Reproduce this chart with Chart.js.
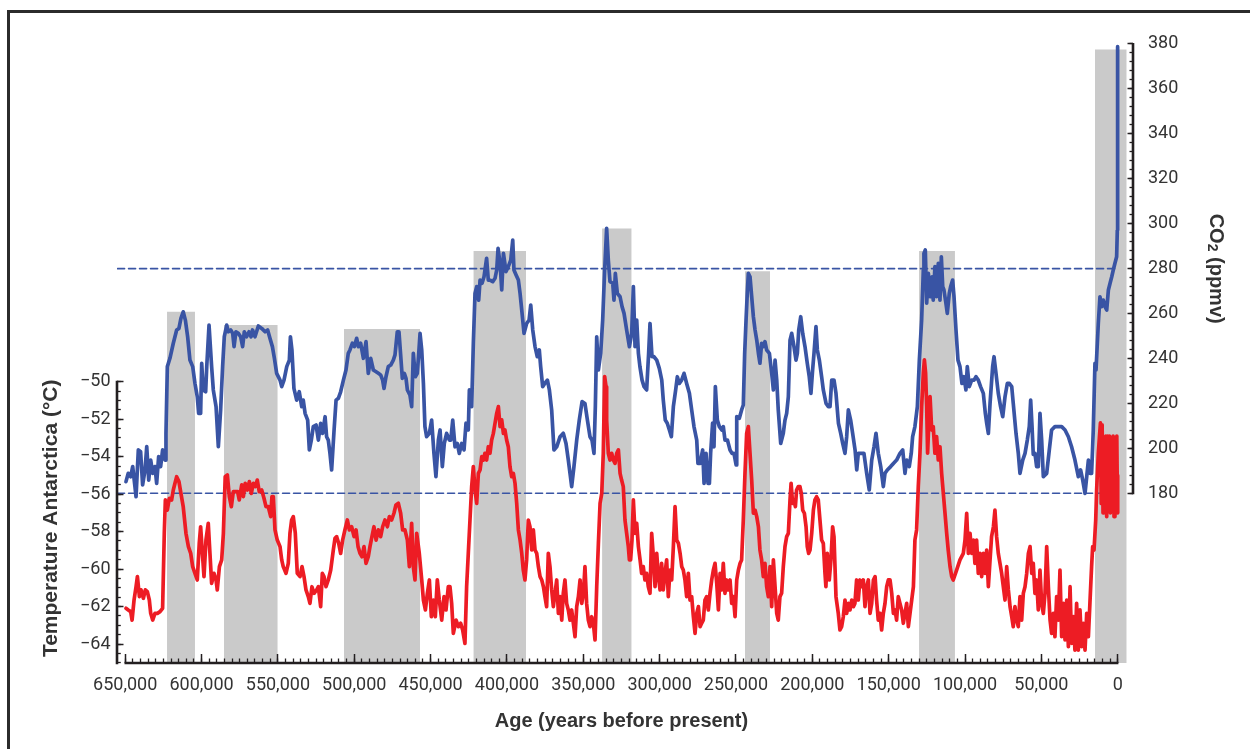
<!DOCTYPE html>
<html>
<head>
<meta charset="utf-8">
<title>Antarctic temperature and CO2 over 650,000 years</title>
<script src="https://cdn.jsdelivr.net/npm/chart.js@4.4.1/dist/chart.umd.min.js"></script>
<style>
  html, body { margin: 0; padding: 0; background: #fff; }
  canvas { display: block; }
</style>
</head>
<body>
<canvas id="chart" width="1250" height="749"></canvas>
<script>
// ages are in thousands of years before present
let co2Age = [
  649.5,648.0,646.4,645.1,643.6,642.9,641.4,639.9,638.6,637.0,635.9,634.6,633.3,632.0,630.5,629.4,628.1,626.8,625.5,623.9,
  623.3,622.4,620.7,618.5,616.3,614.8,613.5,612.0,610.6,609.1,607.6,605.8,604.3,602.8,601.9,600.6,599.9,598.9,597.3,596.6,
  595.1,593.4,592.3,590.5,589.0,587.5,586.2,585.1,583.5,582.5,580.9,579.6,578.7,577.5,575.9,574.4,573.1,572.0,570.5,568.9,
  567.6,566.6,565.0,562.8,560.6,558.4,556.7,555.2,553.6,552.3,550.8,548.6,547.5,546.0,544.2,542.5,541.8,540.8,539.5,537.7,
  536.0,534.4,533.4,532.2,530.5,529.4,528.1,526.8,525.0,523.5,522.0,520.7,519.1,518.1,517.0,515.9,514.8,513.2,511.9,510.4,
  508.9,507.1,505.4,503.9,502.8,501.2,499.9,498.4,497.3,495.8,494.0,492.3,490.8,489.2,487.5,485.7,484.2,482.7,481.4,480.5,
  479.2,477.7,476.1,474.4,473.3,471.8,470.7,470.0,468.5,467.2,466.1,465.2,463.5,462.4,461.3,460.0,458.7,457.6,456.9,455.8,
  454.7,453.7,452.6,450.8,449.3,447.8,446.5,444.9,443.8,442.3,441.0,439.5,437.7,
  436.8,435.5,434.0,432.5,431.2,429.6,428.1,426.8,425.3,424.6,423.1,422.0,420.9,419.8,418.5,417.6,416.3,415.0,413.3,412.2,
  411.1,409.3,407.8,406.7,405.8,404.5,403.4,402.3,400.6,399.1,397.5,396.2,395.4,394.0,392.5,391.4,390.3,388.8,387.1,385.5,
  384.4,383.1,381.6,380.1,378.8,377.9,376.6,375.1,373.5,372.2,370.7,369.2,367.4,365.2,363.1,361.3,359.8,358.7,357.6,356.1,
  354.3,352.6,350.8,348.9,347.3,345.6,344.3,343.0,342.1,341.2,340.1,338.6,337.3,336.0,334.7,333.6,332.5,330.7,329.9,329.0,
  327.7,325.9,324.6,323.3,321.6,319.8,318.3,317.2,316.1,315.0,313.9,312.9,311.5,310.2,308.5,307.2,306.3,305.0,303.7,301.9,
  300.2,298.6,297.6,296.3,295.0,293.6,292.3,291.0,289.5,288.4,287.1,285.6,284.0,282.3,280.5,279.0,277.5,275.7,274.9,273.5,
  271.8,270.9,269.6,268.3,267.4,266.6,265.3,264.4,263.5,262.2,260.9,259.3,258.3,257.2,255.6,253.9,252.6,251.3,249.9,249.5,
  247.8,246.3,245.2,244.3,243.4,242.6,241.9,240.8,239.7,238.6,237.5,236.4,235.3,234.3,233.2,232.1,231.0,229.9,228.1,
  226.6,225.5,224.4,223.3,222.3,220.7,219.0,217.9,216.8,215.7,214.6,213.5,212.0,210.7,209.8,208.9,207.6,206.3,204.8,203.3,
  202.0,200.9,199.8,198.9,197.6,196.7,195.4,193.9,192.8,191.0,189.5,188.4,187.3,185.8,184.5,182.9,181.4,180.1,178.6,177.5,
  176.4,174.9,173.6,172.0,170.9,169.9,167.7,166.2,164.4,162.7,161.1,159.6,158.3,156.8,155.2,153.5,152.4,150.9,148.7,146.9,
  144.8,142.6,140.8,139.3,138.2,136.5,135.2,134.3,132.8,131.2,129.9,128.4,127.3,126.9,126.0,125.1,124.0,122.9,121.6,120.8,
  119.7,118.6,117.5,116.4,115.5,114.6,113.8,112.5,111.6,110.3,109.4,108.1,107.2,105.9,104.6,103.3,102.0,100.7,99.4,98.5,
  97.2,95.6,94.1,92.8,91.3,89.8,88.0,86.7,85.8,84.7,83.6,81.9,81.0,79.7,78.2,76.7,75.3,73.8,72.3,71.0,
  69.4,68.4,66.6,65.1,64.0,62.2,60.7,59.2,57.9,57.0,56.1,55.3,54.2,53.1,52.0,50.9,49.8,48.7,46.5,44.8,
  43.3,41.1,38.9,36.7,34.5,32.3,30.2,28.0,25.8,24.3,22.9,21.4,20.3,19.2,18.1,17.1,16.4,
  16.0,14.9,14.2,12.7,11.6,10.5,9.4,8.3,7.2,6.1,5.0,3.9,2.9,1.8,0.7,0.25,0.1,0.0
];
let co2Ppmv = [
  185.2,188.9,187.4,191.9,182.9,178.5,199.3,198.5,183.7,190.4,200.8,185.9,194.8,188.9,191.9,184.4,196.3,191.9,199.3,194.8,
  206.7,236.4,240.1,246.8,252.7,253.4,257.9,260.8,257.1,249.7,239.3,236.4,228.9,223.0,215.6,215.6,237.8,226.0,225.2,236.4,
  254.9,236.4,226.0,218.6,200.8,217.1,236.4,249.7,254.9,251.9,252.7,251.2,245.3,251.9,251.2,249.7,245.3,251.9,249.7,251.9,
  249.7,252.7,249.7,254.5,253.4,251.9,252.7,249.0,245.3,240.1,233.4,230.4,227.5,230.4,236.4,239.3,249.7,243.8,226.7,221.5,
  225.2,218.6,221.5,215.6,212.6,199.3,203.7,209.7,210.4,203.7,211.1,206.7,214.1,205.2,203.7,197.8,190.4,208.2,221.5,222.3,
  225.2,230.4,234.9,242.3,243.8,246.8,245.3,249.0,245.3,246.8,240.1,247.5,233.4,240.1,234.9,234.1,233.4,232.7,230.4,226.7,
  231.9,236.4,237.1,239.3,241.6,251.9,251.9,245.3,231.2,233.4,231.2,226.0,223.7,218.6,242.3,231.9,233.4,243.8,251.2,243.8,
  228.9,209.7,205.2,206.7,212.6,197.8,187.4,203.7,208.2,191.9,202.3,206.7,203.7,
  203.7,212.6,200.7,202.2,197.8,202.2,199.3,211.2,208.2,226.0,218.6,246.8,269.0,272.0,266.0,274.9,273.5,276.4,284.6,274.9,
  274.9,274.2,275.7,279.4,289.0,282.4,270.5,286.8,278.7,280.9,283.8,292.7,279.4,277.2,274.9,269.0,261.6,251.2,255.6,257.1,
  263.8,252.7,245.3,240.8,243.8,236.4,227.5,229.0,230.4,226.0,217.1,199.3,200.7,205.2,206.7,202.2,194.8,188.9,183.0,191.9,
  203.7,212.6,220.8,220.0,212.6,205.2,203.7,197.8,218.6,249.7,234.9,242.3,257.1,279.4,297.9,283.8,274.2,273.5,266.0,277.9,
  269.0,267.5,263.1,260.1,252.7,245.3,251.2,272.0,245.3,257.1,242.3,236.4,230.4,227.5,226.0,242.3,255.6,240.8,240.8,239.3,
  235.6,230.4,221.5,212.6,211.2,208.2,205.2,218.6,226.0,231.9,228.9,230.4,233.4,228.9,224.5,217.1,209.7,203.7,193.3,193.3,
  199.3,184.4,197.8,184.4,184.4,197.8,211.2,200.7,227.5,212.6,209.7,208.2,209.7,203.7,203.7,199.3,197.8,197.8,192.6,214.1,
  213.4,217.1,219.3,242.3,257.1,269.0,277.9,276.4,267.5,258.6,252.7,248.2,242.3,237.9,246.8,245.3,247.5,243.8,242.3,
  233.4,226.0,239.3,230.4,217.1,202.2,206.7,212.6,215.6,223.0,248.2,251.2,245.3,239.3,242.3,252.7,258.6,251.2,245.3,237.9,
  231.9,224.5,234.9,242.3,254.2,243.8,239.3,231.9,226.0,220.0,218.6,218.6,230.4,230.4,224.5,211.2,206.7,202.2,197.8,205.2,
  217.1,212.6,206.7,199.3,190.4,197.8,197.8,197.8,188.9,181.5,194.8,200.7,206.7,197.8,191.9,183.0,188.9,190.4,191.9,193.3,
  194.8,197.8,199.3,188.9,194.8,191.9,197.8,205.2,209.7,218.6,239.3,257.2,279.4,286.8,288.3,264.6,277.9,267.5,276.4,266.0,
  280.9,267.5,282.4,266.0,285.3,272.0,270.5,264.6,260.1,269.0,272.0,274.9,267.5,252.7,239.3,236.4,228.9,231.9,226.0,236.4,
  227.5,230.4,230.4,231.9,230.4,227.5,224.5,215.6,211.2,206.7,220.0,236.4,240.8,233.4,224.5,218.6,214.1,223.0,228.9,228.9,
  227.5,220.0,206.7,197.8,188.9,194.8,197.8,203.7,209.7,221.5,209.7,197.3,197.8,191.9,191.9,215.6,203.7,187.4,188.9,199.3,
  208.2,209.7,209.7,209.7,208.2,205.2,200.7,194.8,187.4,190.4,185.9,180.0,187.4,194.8,188.9,188.9,200.7,
  208.2,237.8,234.9,255.6,267.5,263.1,266.0,263.1,261.6,270.5,273.5,276.4,279.4,282.4,285.3,297.2,326.9,378.8
];

let tempAge = [
  649.5,648.0,646.4,645.5,644.2,642.9,642.0,640.7,639.6,638.1,636.8,635.5,634.2,633.3,632.0,630.5,628.9,627.2,625.5,624.4,
  623.7,622.4,621.1,619.6,618.5,617.4,616.3,614.8,613.5,612.0,610.2,608.6,607.1,605.8,604.3,602.8,601.5,600.6,599.3,598.4,
  597.1,595.6,594.5,593.4,591.8,590.5,589.7,588.3,586.8,585.7,584.5,583.1,581.8,580.5,579.2,577.6,576.4,575.3,573.7,572.6,
  571.4,570.0,568.7,567.4,566.1,564.8,563.5,562.2,560.6,559.1,557.8,556.3,554.7,553.9,553.0,551.9,550.4,548.6,547.5,546.5,
  544.7,543.2,542.1,541.0,539.9,538.6,537.3,535.5,534.2,532.9,531.6,530.1,529.0,527.7,526.3,524.6,523.5,522.0,520.9,519.8,
  518.5,517.0,515.4,513.7,512.6,511.5,510.2,508.9,507.6,506.1,504.5,503.2,501.7,500.1,498.8,497.5,496.2,494.9,493.6,492.3,
  490.8,489.7,488.4,487.1,485.7,484.2,482.7,481.4,479.9,478.3,477.0,475.5,474.0,472.7,471.1,469.6,468.3,466.8,465.2,463.9,
  462.4,461.3,460.2,459.1,457.4,455.8,454.7,453.4,452.1,450.8,449.5,448.2,446.9,445.6,444.3,442.7,441.2,439.9,438.4,
  437.3,436.2,435.1,433.3,431.8,430.3,429.0,427.5,426.4,425.3,424.2,423.1,422.0,420.9,419.8,418.7,417.6,416.5,415.4,414.4,
  413.3,412.2,411.1,410.0,408.9,407.8,406.7,405.6,404.5,403.4,402.3,401.3,400.2,399.1,398.0,396.9,395.8,394.7,393.6,392.5,
  391.4,390.3,389.3,388.2,387.1,386.0,384.9,383.8,382.7,381.6,380.5,379.4,378.3,377.2,376.1,375.1,374.0,372.9,371.8,370.7,
  369.6,368.5,367.4,366.3,365.2,364.1,363.1,362.0,360.9,359.8,358.7,357.6,356.5,355.4,354.3,353.2,352.1,351.0,349.9,348.9,
  347.8,346.7,345.6,344.5,343.4,342.3,341.2,340.1,339.0,337.9,336.9,336.0,335.1,334.7,333.6,332.5,331.4,330.3,329.2,328.1,
  327.0,325.9,324.9,323.8,322.7,321.6,320.5,319.8,319.0,318.1,317.2,316.1,315.0,313.9,312.8,311.8,310.7,309.6,308.5,307.4,
  306.3,305.2,304.1,303.0,301.9,300.8,299.7,298.7,297.6,296.5,295.4,294.3,293.2,292.1,291.0,289.9,288.8,287.7,286.6,285.5,
  284.5,283.4,282.3,281.2,280.1,279.0,277.9,276.8,275.7,274.6,273.5,272.5,271.4,270.3,269.2,268.1,267.0,265.9,264.8,263.7,
  262.6,261.5,260.4,259.3,258.3,257.2,256.1,255.0,253.9,252.8,251.7,250.6,249.5,248.4,247.3,246.3,245.2,244.1,243.0,241.9,
  240.8,239.7,238.6,237.5,236.4,235.3,234.3,233.2,232.1,231.0,229.9,228.8,
  227.7,226.6,225.5,224.4,223.3,222.3,221.2,220.1,219.0,217.9,216.8,215.7,214.6,213.9,212.9,212.0,211.1,210.3,209.2,208.1,
  207.2,206.3,205.2,204.1,203.3,202.4,201.5,200.4,199.3,198.3,197.2,196.1,195.0,193.9,192.8,191.7,191.1,190.2,188.9,187.8,
  186.7,185.8,184.5,183.0,181.9,180.8,179.7,178.6,177.5,176.4,175.3,174.2,173.1,172.1,171.0,169.9,168.8,167.7,166.6,165.5,
  164.4,163.3,162.2,161.1,160.0,158.9,157.9,156.8,155.7,154.6,153.5,152.4,151.3,150.2,149.1,148.0,146.9,145.8,144.8,143.7,
  142.6,141.5,140.4,139.3,138.2,137.1,136.0,134.9,133.8,132.8,131.7,130.6,129.5,128.4,127.3,126.6,125.8,125.1,124.5,123.8,
  122.9,121.8,120.8,119.7,118.6,117.5,116.4,115.3,114.2,113.1,112.0,111.0,109.8,108.7,107.7,105.5,103.3,101.1,100.0,98.9,
  97.8,96.7,95.6,94.5,93.5,92.4,91.3,90.2,89.1,88.0,86.9,85.8,84.7,83.6,82.6,81.4,80.4,79.3,78.2,77.1,
  76.0,74.9,73.8,72.7,71.6,70.5,69.4,68.4,67.3,66.2,65.1,64.0,62.9,61.8,60.7,59.6,58.5,57.4,56.3,55.3,
  54.2,53.1,52.0,50.9,49.8,48.7,47.6,46.5,45.4,44.3,43.3,42.2,41.1,40.0,38.9,37.8,36.7,35.6,34.5,33.4,
  32.3,31.2,30.2,29.1,28.0,26.9,25.8,24.7,23.6,22.5,21.4,20.3,19.2,18.2,17.1,16.4,15.5,14.4,13.8,12.7,
  12.0,11.3,10.8,10.2,9.6,9.0,8.4,7.8,7.2,6.6,6.0,5.4,4.8,4.2,3.6,3.0,2.4,1.8,1.2,0.6,0.1,0.0
];
let tempC = [
  -62.09,-62.18,-62.27,-62.72,-61.65,-60.94,-60.40,-61.47,-61.11,-61.56,-61.11,-61.20,-61.65,-62.36,-62.72,-62.36,-62.36,-62.27,-62.09,-58.09,
  -56.31,-56.85,-56.22,-56.31,-55.78,-55.42,-55.07,-55.33,-55.96,-56.67,-58.09,-58.80,-59.16,-59.87,-60.23,-60.58,-58.62,-57.74,-59.34,-60.40,
  -58.45,-57.56,-59.16,-60.76,-60.23,-60.58,-61.11,-59.87,-59.51,-58.09,-55.07,-54.98,-56.13,-56.67,-55.87,-55.87,-55.87,-56.31,-55.51,-56.13,
  -55.42,-55.78,-55.33,-55.96,-55.42,-55.60,-55.25,-55.87,-55.78,-56.22,-56.67,-56.67,-57.20,-56.13,-56.13,-57.91,-58.45,-58.80,-59.51,-59.87,
  -60.23,-59.69,-58.09,-57.38,-57.20,-58.09,-60.23,-60.40,-59.87,-60.40,-61.11,-61.47,-61.83,-60.94,-61.29,-61.11,-60.94,-62.00,-60.23,-60.40,
  -60.94,-60.58,-60.05,-58.98,-58.36,-58.27,-58.62,-59.16,-58.45,-57.91,-57.38,-57.91,-57.74,-58.27,-57.91,-58.80,-59.16,-59.34,-58.80,-59.69,
  -59.34,-58.80,-58.27,-57.74,-58.45,-57.91,-58.27,-57.74,-57.38,-57.74,-57.20,-57.38,-57.02,-56.58,-56.49,-57.02,-57.91,-57.91,-58.45,-59.87,
  -57.56,-59.87,-60.58,-58.09,-59.16,-60.58,-61.65,-62.18,-61.29,-60.58,-62.54,-61.65,-62.54,-60.58,-61.65,-62.72,-61.47,-62.18,-60.94,
  -60.94,-61.83,-63.43,-62.72,-63.07,-62.89,-63.25,-63.96,-60.94,-59.16,-57.38,-55.60,-54.53,-55.78,-56.49,-54.89,-54.71,-54.00,-54.18,-53.82,
  -54.18,-53.47,-53.82,-53.11,-52.76,-52.22,-51.69,-51.33,-52.40,-52.04,-52.76,-52.58,-53.11,-53.47,-54.53,-55.07,-54.89,-55.42,-56.49,-57.91,
  -58.45,-59.16,-60.05,-60.58,-59.51,-57.38,-57.74,-58.98,-57.91,-58.98,-59.16,-59.87,-60.40,-60.58,-60.94,-61.47,-62.00,-59.16,-59.87,-61.11,
  -62.00,-61.29,-60.58,-62.36,-61.47,-62.72,-61.29,-60.58,-61.83,-62.18,-62.72,-62.18,-62.89,-63.61,-62.00,-61.47,-60.58,-61.83,-61.29,-59.87,
  -61.83,-62.72,-63.07,-62.54,-62.89,-63.78,-60.94,-58.63,-56.49,-55.96,-53.82,-49.73,-50.27,-52.04,-53.82,-54.18,-53.82,-54.18,-54.36,-53.82,
  -53.64,-54.89,-55.25,-55.60,-57.38,-58.09,-58.80,-59.51,-59.51,-58.45,-56.31,-58.09,-57.56,-58.80,-59.51,-60.23,-59.87,-60.58,-60.23,-60.94,
  -61.29,-58.09,-59.34,-60.94,-59.16,-60.40,-61.11,-59.69,-61.11,-60.23,-59.51,-61.47,-60.05,-60.58,-58.80,-56.67,-58.45,-58.63,-59.16,-59.87,
  -60.05,-60.58,-61.47,-60.23,-61.65,-61.47,-62.54,-63.43,-62.36,-62.00,-63.07,-62.89,-62.72,-61.65,-61.47,-62.18,-61.29,-60.58,-60.05,-59.69,
  -60.76,-62.18,-60.23,-61.11,-59.69,-61.29,-60.58,-61.11,-60.58,-61.83,-61.47,-62.54,-60.58,-60.05,-59.69,-59.51,-57.38,-54.89,-52.76,-52.40,
  -53.82,-55.25,-57.02,-56.85,-57.20,-57.74,-58.98,-59.51,-60.40,-59.69,-60.94,-61.47,
  -59.87,-62.00,-59.51,-60.94,-62.36,-62.72,-61.47,-61.29,-59.87,-58.80,-58.27,-58.09,-56.31,-55.42,-56.49,-56.31,-56.67,-55.78,-55.60,-55.60,
  -55.96,-56.85,-57.02,-57.74,-58.80,-59.16,-58.98,-58.09,-56.85,-56.31,-56.14,-56.31,-57.38,-58.45,-58.63,-60.23,-60.94,-59.16,-60.58,-59.51,
  -57.74,-58.27,-61.47,-62.36,-63.25,-63.07,-62.54,-61.65,-62.36,-61.83,-62.18,-61.65,-62.00,-61.83,-60.58,-61.65,-60.58,-60.94,-60.58,-62.00,
  -60.94,-60.58,-62.36,-61.83,-60.58,-60.40,-61.65,-62.72,-62.36,-63.25,-62.36,-61.83,-60.94,-60.58,-60.58,-61.29,-62.36,-62.18,-62.72,-61.47,
  -61.83,-62.18,-62.89,-62.36,-61.83,-63.07,-62.36,-61.65,-60.94,-58.45,-57.91,-55.60,-53.82,-51.33,-49.55,-48.84,-49.55,-51.33,-53.82,-52.40,
  -50.80,-52.58,-52.40,-53.82,-52.93,-54.18,-53.47,-54.89,-55.96,-57.02,-58.09,-58.98,-59.87,-60.40,-60.58,-60.05,-59.51,-59.16,-58.45,-57.02,
  -59.16,-58.09,-59.16,-58.45,-59.69,-58.45,-60.23,-59.16,-60.40,-59.16,-60.23,-58.98,-60.94,-59.51,-58.27,-57.74,-56.85,-58.27,-59.16,-59.69,
  -60.23,-60.94,-61.65,-59.87,-61.11,-62.00,-62.54,-63.07,-62.00,-62.72,-63.07,-61.47,-62.72,-61.29,-60.94,-60.23,-59.16,-58.80,-60.23,-59.69,
  -61.29,-60.58,-62.18,-60.05,-61.83,-62.36,-61.29,-58.80,-60.94,-62.72,-63.43,-62.36,-63.61,-61.47,-62.72,-60.05,-63.61,-61.83,-63.78,-61.65,
  -64.14,-60.94,-63.96,-62.54,-64.32,-61.83,-64.32,-62.18,-64.14,-62.89,-64.32,-62.36,-63.61,-61.83,-59.87,-58.80,-58.98,-57.38,-55.78,-53.82,
  -53.0,-52.2,-56.5,-52.3,-57.0,-53.0,-56.8,-52.9,-57.2,-52.9,-56.5,-52.9,-57.0,-53.0,-56.0,-52.9,-57.2,-53.0,-55.5,-52.9,-57.0,-55.0
];

// shaded interglacial periods (ky BP) and the CO2 level their shading reaches
let interglacialStart = [622.6, 585.3, 506.7, 422.0, 337.7, 244.1, 130.1, 14.9];
let interglacialEnd = [604.3, 550.1, 456.9, 387.5, 318.3, 227.7, 106.6, -5.9];
let interglacialTop = [260.8, 254.9, 253.1, 287.9, 297.9, 278.9, 287.9, 377.6];

let referenceCo2 = [280, 180];

let ageTicks = [650000, 600000, 550000, 500000, 450000, 400000, 350000, 300000, 250000, 200000, 150000, 100000, 50000, 0];
let tempTicks = [-64, -62, -60, -58, -56, -54, -52, -50];
let co2Ticks = [180, 200, 220, 240, 260, 280, 300, 320, 340, 360, 380];

const BLUE = '#3954a4';
const RED = '#ed1c24';
const GREY = '#cacaca';
const INK = '#231f20';
const TEXT = '#333333';
const TICK_FONT = { family: 'Roboto, "Liberation Sans", sans-serif', size: 18 };
const TITLE_FONT = '"Liberation Sans", Arial, sans-serif';

function toPoints(ages, values) {
    let points = [];
    let n = Math.min(ages.length, values.length);
    for (let i = 0; i < n; i++) {
        points.push({ x: ages[i] * 1000, y: values[i] });
    }
    return points;
}

function tickRange(from, to, step) {
    let list = [];
    for (let v = from; v <= to + 1e-9; v += step) list.push({ value: Math.round(v * 100) / 100 });
    return list;
}

let datasets = [];
interglacialStart.forEach((start, i) => {
    datasets.push({
        data: [{ x: start * 1000, y: interglacialTop[i] }, { x: interglacialEnd[i] * 1000, y: interglacialTop[i] }],
        yAxisID: 'co2',
        borderWidth: 0,
        borderColor: GREY,
        backgroundColor: GREY,
        fill: 'start',
        order: 10
    });
});
referenceCo2.forEach(level => {
    datasets.push({
        data: [{ x: 655000, y: level }, { x: 1000, y: level }],
        yAxisID: 'co2',
        borderColor: BLUE,
        borderWidth: 1.6,
        borderDash: [7, 4],
        fill: false,
        order: 5
    });
});
datasets.push({
    label: 'CO2 (ppmv)',
    data: toPoints(co2Age, co2Ppmv),
    yAxisID: 'co2',
    borderColor: BLUE,
    borderWidth: 3.7,
    fill: false,
    order: 2
});
datasets.push({
    label: 'Temperature Antarctica',
    data: toPoints(tempAge, tempC),
    yAxisID: 'temp',
    borderColor: RED,
    borderWidth: 3.7,
    fill: false,
    order: 1
});

const AGE_MIN = -10020, AGE_MAX = 655370;

const decorations = {
    id: 'decorations',
    beforeDraw(chart) {
        const ctx = chart.ctx;
        ctx.save();
        ctx.fillStyle = '#ffffff';
        ctx.fillRect(0, 0, chart.width, chart.height);
        ctx.fillStyle = '#2b2b2b';
        ctx.fillRect(7, 10, chart.width - 7, 3);
        ctx.fillRect(7, 10, 3, chart.height - 10);
        ctx.restore();
    },
    afterDraw(chart) {
        const ctx = chart.ctx;
        const area = chart.chartArea;
        const x = chart.scales.x, temp = chart.scales.temp, co2 = chart.scales.co2;
        ctx.save();
        ctx.strokeStyle = INK;
        ctx.lineWidth = 2.6;
        ctx.lineCap = 'butt';
        ctx.beginPath();
        ctx.moveTo(temp.right, temp.getPixelForValue(-50) - 1);
        ctx.lineTo(temp.right, area.bottom + 1.3);
        ctx.moveTo(x.getPixelForValue(650000) - 0.7, area.bottom);
        ctx.lineTo(x.getPixelForValue(0) + 0.7, area.bottom);
        ctx.moveTo(co2.left, co2.getPixelForValue(380) - 1);
        ctx.lineTo(co2.left, co2.getPixelForValue(180) + 1);
        ctx.stroke();

        ctx.fillStyle = TEXT;
        ctx.textAlign = 'center';
        ctx.textBaseline = 'middle';
        ctx.font = 'bold 21px ' + TITLE_FONT;
        ctx.save();
        ctx.translate(51, (temp.getPixelForValue(-50) + area.bottom) / 2 - 4);
        ctx.rotate(-Math.PI / 2);
        ctx.fillText('Temperature Antarctica (°C)', 0, 0);
        ctx.restore();

        ctx.font = 'bold 20px ' + TITLE_FONT;
        ctx.fillText('Age (years before present)', (x.getPixelForValue(650000) + x.getPixelForValue(0)) / 2, 721);

        // CO2 title with a lowered, smaller 2
        ctx.save();
        ctx.translate(1216, (co2.getPixelForValue(380) + co2.getPixelForValue(180)) / 2);
        ctx.rotate(Math.PI / 2);
        ctx.textAlign = 'left';
        const big = 'bold 20px ' + TITLE_FONT, small = 'bold 14px ' + TITLE_FONT;
        ctx.font = big;
        const wCO = ctx.measureText('CO').width;
        const wRest = ctx.measureText(' (ppmv)').width;
        ctx.font = small;
        const w2 = ctx.measureText('2').width;
        let start = -(wCO + w2 + wRest) / 2;
        ctx.font = big;
        ctx.fillText('CO', start, 0);
        ctx.font = small;
        ctx.fillText('2', start + wCO, 4);
        ctx.font = big;
        ctx.fillText(' (ppmv)', start + wCO + w2, 0);
        ctx.restore();
        ctx.restore();
    }
};

let chart = new Chart(document.getElementById('chart').getContext('2d'), {
    type: 'line',
    data: { datasets: datasets },
    options: {
        responsive: false,
        animation: false,
        devicePixelRatio: 1,
        layout: { padding: { top: 40, left: 0, right: 0, bottom: 0 } },
        plugins: { legend: { display: false }, tooltip: { enabled: false } },
        elements: {
            line: { tension: 0, borderJoinStyle: 'round', borderCapStyle: 'round' },
            point: { radius: 0 }
        },
        scales: {
            x: {
                type: 'linear', position: 'bottom', reverse: true, bounds: 'data',
                min: AGE_MIN, max: AGE_MAX, weight: 1,
                afterBuildTicks: s => { s.ticks = ageTicks.map(v => ({ value: v })); },
                afterFit: s => { s.height = 86; },
                ticks: {
                    autoSkip: false, maxRotation: 0, padding: 21, color: TEXT, font: TICK_FONT,
                    callback: v => Number(v).toLocaleString('en-US')
                },
                grid: { drawOnChartArea: false, tickLength: -9, tickWidth: 1.5, tickColor: INK, z: 1 },
                border: { display: false }
            },
            xMinor: {
                type: 'linear', axis: 'x', position: 'bottom', reverse: true, bounds: 'data',
                min: AGE_MIN, max: AGE_MAX, weight: 0,
                afterBuildTicks: s => { s.ticks = tickRange(0, 650000, 5000); },
                afterFit: s => { s.height = 0; },
                ticks: { display: false, autoSkip: false },
                grid: { drawOnChartArea: false, tickLength: -4.5, tickWidth: 1.3, tickColor: INK, z: 1 },
                border: { display: false }
            },
            temp: {
                type: 'linear', axis: 'y', position: 'left', bounds: 'data',
                min: -65.01, max: -31.77, weight: 1,
                afterBuildTicks: s => { s.ticks = tempTicks.map(v => ({ value: v })); },
                afterFit: s => { s.width = 117; },
                ticks: {
                    autoSkip: false, padding: 13, color: TEXT, font: TICK_FONT,
                    callback: v => '\u2212' + Math.abs(v)
                },
                grid: { drawOnChartArea: false, tickLength: -6.5, tickWidth: 1.5, tickColor: INK, z: 1 },
                border: { display: false }
            },
            tempMinor: {
                type: 'linear', axis: 'y', position: 'left', bounds: 'data',
                min: -65.01, max: -31.77, weight: 0,
                afterBuildTicks: s => { s.ticks = tickRange(-65, -50, 0.5); },
                afterFit: s => { s.width = 0; },
                ticks: { display: false, autoSkip: false },
                grid: { drawOnChartArea: false, tickLength: -3.8, tickWidth: 1.3, tickColor: INK, z: 1 },
                border: { display: false }
            },
            co2: {
                type: 'linear', axis: 'y', position: 'right', bounds: 'data',
                min: 104.47, max: 381.78, weight: 1,
                afterBuildTicks: s => { s.ticks = co2Ticks.map(v => ({ value: v })); },
                afterFit: s => { s.width = 117; },
                ticks: { autoSkip: false, padding: 20.5, color: TEXT, font: TICK_FONT },
                grid: { drawOnChartArea: false, tickLength: -5.5, tickWidth: 1.5, tickColor: INK, z: 1 },
                border: { display: false }
            },
            co2Minor: {
                type: 'linear', axis: 'y', position: 'right', bounds: 'data',
                min: 104.47, max: 381.78, weight: 0,
                afterBuildTicks: s => { s.ticks = tickRange(180, 380, 4); },
                afterFit: s => { s.width = 0; },
                ticks: { display: false, autoSkip: false },
                grid: { drawOnChartArea: false, tickLength: -3.5, tickWidth: 1.3, tickColor: INK, z: 1 },
                border: { display: false }
            }
        }
    },
    plugins: [decorations]
});
</script>
</body>
</html>
